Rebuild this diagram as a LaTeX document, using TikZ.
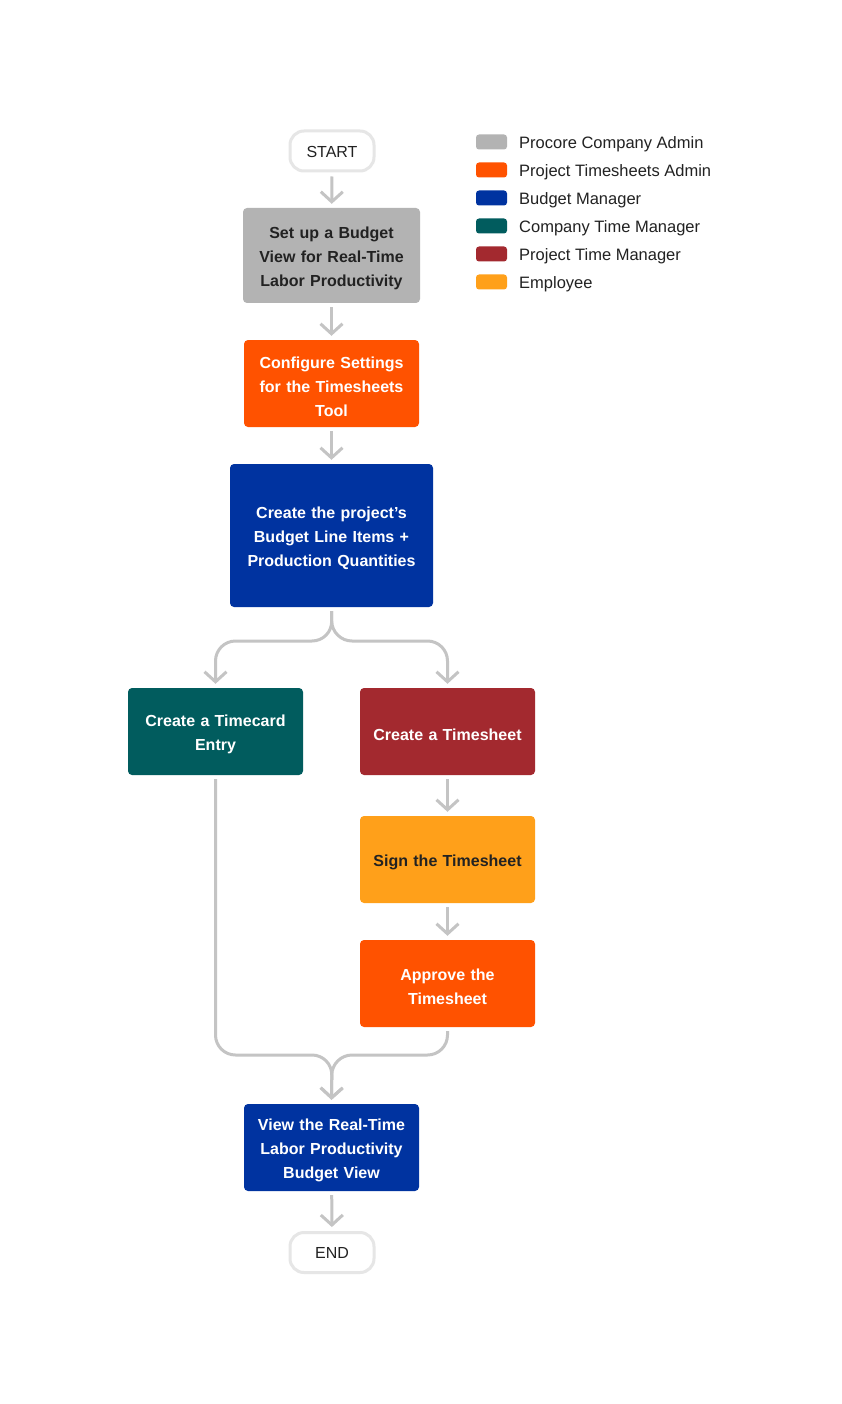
\documentclass[tikz,border=0pt]{standalone}
\usepackage{fontspec}
\setmainfont{Liberation Sans}
\usetikzlibrary{arrows.meta,calc}
\definecolor{cgray}{HTML}{B3B3B3}
\definecolor{corange}{HTML}{FF5200}
\definecolor{cblue}{HTML}{0033A0}
\definecolor{cteal}{HTML}{015C5E}
\definecolor{cred}{HTML}{A3292F}
\definecolor{cyellow}{HTML}{FFA01A}
\definecolor{cline}{HTML}{C4C4C4}
\definecolor{cpill}{HTML}{E6E6E6}
\definecolor{ctext}{HTML}{222222}
\tikzset{
  stepbox/.style={rectangle, rounded corners=4pt, inner sep=0pt, align=center,
    text width=175pt,
    minimum width=175pt, minimum height=87pt, text=white,
    font=\bfseries\fontsize{16}{24}\selectfont,
    execute at begin node={\rule{0pt}{18pt}}},
  pill/.style={rectangle, rounded corners=14pt, draw=cpill, line width=3pt, fill=white,
    minimum width=84pt, minimum height=40pt, inner sep=0pt, text=ctext,
    text height=12.5pt, text depth=0pt,
    font=\fontsize{16}{20}\selectfont},
  arr/.style={draw=cline, line width=3pt, -{Straight Barb[length=10pt,width=22pt]},
    shorten <=4pt, shorten >=4pt},
  legsq/.style={rectangle, rounded corners=3pt, minimum width=31pt, minimum height=15pt, inner sep=0pt},
  legtxt/.style={anchor=west, inner sep=0pt, text=ctext, text height=12.3pt, text depth=0pt,
    font=\fontsize{16.5}{20}\selectfont}
}
\begin{document}
\begin{tikzpicture}[x=1pt,y=-1pt]
\path[use as bounding box, fill=white] (0,0) rectangle (842,1404);

\node[pill] (start) at (332,151) {START};
\node[stepbox, fill=cgray, text=ctext, minimum width=177pt, minimum height=95pt] (b1) at (331.5,255.5)
  {Set up a Budget\\View for Real-Time\\Labor Productivity};
\node[stepbox, fill=corange] (b2) at (331.5,383.5)
  {Configure Settings\\for the Timesheets\\Tool};
\node[stepbox, fill=cblue, minimum width=203pt, minimum height=143pt] (b3) at (331.5,535.5)
  {Create the project’s\\Budget Line Items +\\Production Quantities};
\node[stepbox, fill=cteal] (b4) at (215.5,731.5) {Create a Timecard\\Entry};
\node[stepbox, fill=cred] (b5) at (447.5,731.5) {Create a Timesheet};
\node[stepbox, fill=cyellow, text=ctext] (b6) at (447.5,859.5) {Sign the Timesheet};
\node[stepbox, fill=corange] (b7) at (447.5,983.5) {Approve the\\Timesheet};
\node[stepbox, fill=cblue] (b8) at (331.5,1147.5)
  {View the Real-Time\\Labor Productivity\\Budget View};
\node[pill] (end) at (332,1252.5) {END};

\coordinate (j1) at (332,641);
\coordinate (j2) at (332,1055);

\draw[arr] (start) -- (b1);
\draw[arr] (b1) -- (b2);
\draw[arr] (b2) -- (b3);
\draw[arr, rounded corners=20pt] (b3.south) -- (j1) -- (j1 -| b4.north) -- (b4.north);
\draw[arr, rounded corners=20pt] (b3.south) -- (j1) -- (j1 -| b5.north) -- (b5.north);
\draw[arr] (b5) -- (b6);
\draw[arr] (b6) -- (b7);
\draw[arr, rounded corners=20pt] (b4.south) -- (b4.south |- j2) -- (j2) -- (b8.north);
\draw[arr, rounded corners=20pt] (b7.south) -- (b7.south |- j2) -- (j2) -- (b8.north);
\draw[arr] (b8) -- (end);

% legend
\node[legsq, fill=cgray] (l1) at (491.5,142) {};
\node[legsq, fill=corange] (l2) at (491.5,170) {};
\node[legsq, fill=cblue] (l3) at (491.5,198) {};
\node[legsq, fill=cteal] (l4) at (491.5,226) {};
\node[legsq, fill=cred] (l5) at (491.5,254) {};
\node[legsq, fill=cyellow] (l6) at (491.5,282) {};
\node[legtxt] (t1) at (519,142) {Procore Company Admin};
\node[legtxt] (t2) at (519,170) {Project Timesheets Admin};
\node[legtxt] (t3) at (519,198) {Budget Manager};
\node[legtxt] (t4) at (519,226) {Company Time Manager};
\node[legtxt] (t5) at (519,254) {Project Time Manager};
\node[legtxt] (t6) at (519,282) {Employee};
\end{tikzpicture}
\end{document}
